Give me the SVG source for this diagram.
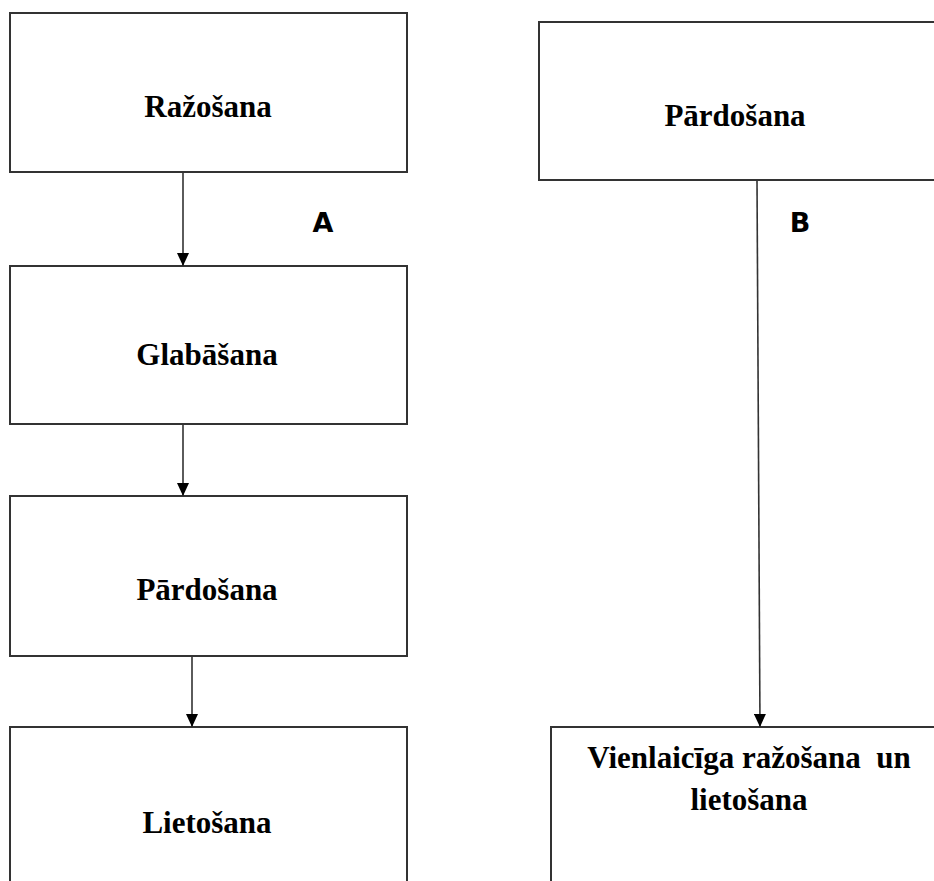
<svg xmlns="http://www.w3.org/2000/svg" width="934" height="881" viewBox="0 0 934 881">
  <style>
    .box { fill: #ffffff; stroke: #333333; stroke-width: 2; }
    .lbl { font-family: "Liberation Serif", "Times New Roman", serif; font-weight: bold; font-size: 31px; fill: #000000; text-anchor: middle; }
    .tag { font-family: "DejaVu Sans", Verdana, sans-serif; font-weight: bold; font-size: 27px; fill: #000000; text-anchor: middle; }
    .edge { stroke: #333333; stroke-width: 1.6; fill: none; marker-end: url(#head); }
  </style>
  <defs>
    <marker id="head" viewBox="0 0 13 12" refX="13" refY="6" markerWidth="13" markerHeight="12" markerUnits="userSpaceOnUse" orient="auto">
      <path d="M0,0 L13,6 L0,12 Z" fill="#000000"/>
    </marker>
  </defs>
  <rect width="934" height="881" fill="#ffffff"/>

  <!-- process A: left column -->
  <g id="a-razosana">
    <rect class="box" x="10" y="13" width="397" height="159"/>
    <text class="lbl" x="208" y="117">Ražošana</text>
  </g>
  <g id="a-glabasana">
    <rect class="box" x="10" y="266" width="397" height="158"/>
    <text class="lbl" x="207" y="365">Glabāšana</text>
  </g>
  <g id="a-pardosana">
    <rect class="box" x="10" y="496" width="397" height="160"/>
    <text class="lbl" x="207" y="600">Pārdošana</text>
  </g>
  <g id="a-lietosana">
    <rect class="box" x="10" y="727" width="397" height="170"/>
    <text class="lbl" x="207" y="833">Lietošana</text>
  </g>

  <!-- process B: right column -->
  <g id="b-pardosana">
    <rect class="box" x="539" y="22" width="410" height="158"/>
    <text class="lbl" x="735" y="126">Pārdošana</text>
  </g>
  <g id="b-vienlaiciga">
    <rect class="box" x="551" y="727" width="400" height="170"/>
    <text class="lbl" x="749" y="768" xml:space="preserve">Vienlaicīga ražošana  un</text>
    <text class="lbl" x="749" y="810">lietošana</text>
  </g>

  <!-- column tags -->
  <g id="tag-a"><text class="tag" x="323" y="232">A</text></g>
  <g id="tag-b"><text class="tag" x="800" y="232">B</text></g>

  <!-- connectors -->
  <g id="connectors">
    <line class="edge" x1="183" y1="172" x2="183" y2="266"/>
    <line class="edge" x1="183" y1="424" x2="183" y2="496"/>
    <line class="edge" x1="192" y1="656" x2="192" y2="727"/>
    <line class="edge" x1="757" y1="180" x2="760" y2="727"/>
  </g>
</svg>
